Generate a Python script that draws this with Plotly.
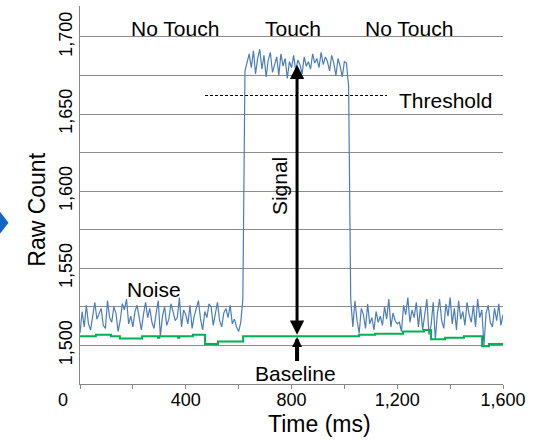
import plotly.graph_objects as go

# ---------------- data ----------------
SAMPLE_MS = 8
# raw count before touch (t = 0 .. 608 ms)
noise_before = [1508, 1522, 1512, 1526, 1514, 1510, 1519, 1528, 1517, 1520,
                1524, 1513, 1511, 1529, 1518, 1515, 1525, 1521, 1509, 1516,
                1527, 1523, 1530, 1514, 1519, 1512, 1522, 1526, 1517, 1510,
                1520, 1528, 1518, 1524, 1515, 1511, 1521, 1529, 1506, 1519,
                1525, 1513, 1517, 1527, 1522, 1516, 1518, 1531, 1512, 1523,
                1520, 1514, 1526, 1511, 1519, 1524, 1529, 1517, 1510, 1522,
                1518, 1527, 1525, 1513, 1520, 1528, 1516, 1512, 1521, 1524,
                1518, 1526, 1514, 1517, 1512, 1509, 1515]
rise_edge = [1530]
touch_counts = [1678, 1684, 1689, 1680, 1691, 1676, 1686, 1692, 1679, 1688,
                1674, 1685, 1690, 1677, 1683, 1687, 1675, 1689, 1681, 1686,
                1673, 1684, 1680, 1688, 1678, 1685, 1682, 1676, 1687, 1681,
                1684, 1679, 1689, 1683, 1686, 1680, 1690, 1682, 1687, 1684,
                1678, 1688, 1683, 1675, 1686, 1681, 1674, 1684, 1683]
fall_edge = [1668, 1530]
noise_after = [1512, 1529, 1516, 1508, 1524, 1520, 1511, 1527, 1514, 1518,
               1510, 1522, 1515, 1519, 1513, 1525, 1517, 1530, 1512, 1521,
               1516, 1514, 1515, 1509, 1526, 1520, 1531, 1515, 1523, 1518,
               1528, 1512, 1525, 1510, 1522, 1530, 1507, 1513, 1528, 1504,
               1521, 1530, 1516, 1511, 1527, 1519, 1531, 1514, 1524, 1510,
               1529, 1517, 1522, 1513, 1528, 1520, 1515, 1526, 1512, 1530,
               1518, 1523, 1500, 1521, 1526, 1515, 1512, 1524, 1516, 1527,
               1513, 1520]
raw_count = noise_before + rise_edge + touch_counts + fall_edge + noise_after
raw_time = [i * SAMPLE_MS for i in range(len(raw_count))]

# baseline (step line)
baseline_time = [0, 60, 117, 151, 235, 295, 300, 371, 376, 427, 473, 522, 617,
                 1055, 1116, 1222, 1301, 1328, 1381, 1452, 1521, 1547, 1600]
baseline_value = [1506, 1507, 1506, 1504.5, 1506, 1505, 1506, 1505, 1506, 1507,
                  1501, 1502.5, 1506, 1507, 1507.5, 1509, 1510, 1504, 1505,
                  1506, 1499.5, 1501, 1501.5]

threshold_time = [473, 1161]
threshold_value = [1662, 1662]

y_ticks = [1500, 1525, 1550, 1575, 1600, 1625, 1650, 1675, 1700]
y_ticktext = ["1,500", "", "1,550", "", "1,600", "", "1,650", "", "1,700"]
x_ticks = [0, 200, 400, 600, 800, 1000, 1200, 1400, 1600]
x_ticktext = ["", "", "400", "", "800", "", "1,200", "", "1,600"]

FONT = "Liberation Sans, Arial, sans-serif"

fig = go.Figure()
fig.add_trace(go.Scatter(x=raw_time, y=raw_count, mode="lines",
                         line=dict(color="#4a7ebb", width=1.2), showlegend=False))
fig.add_trace(go.Scatter(x=baseline_time, y=baseline_value, mode="lines",
                         line=dict(color="#00b050", width=2, shape="hv"),
                         showlegend=False))
fig.add_trace(go.Scatter(x=threshold_time, y=threshold_value, mode="lines",
                         line=dict(color="black", width=1, dash="3px,2px"),
                         showlegend=False))

ann = []
def label(text, x, y, size=21, angle=0):
    ann.append(dict(x=x, y=y, xref="x", yref="y", text=text, showarrow=False,
                    textangle=angle, font=dict(size=size, color="black", family=FONT),
                    xanchor="center", yanchor="middle"))

label("No Touch", 359, 1705.5)
label("Touch", 804, 1705.5)
label("No Touch", 1244, 1705.5)
label("Threshold", 1381, 1658.5)
label("Noise", 278, 1536.5)
label("Baseline", 817, 1481.5)
label("Signal", 755, 1603, angle=-90)

# signal double arrow
ann.append(dict(x=821, y=1682, ax=821, ay=1506, xref="x", yref="y",
                axref="x", ayref="y", text="", showarrow=True,
                arrowhead=2, startarrowhead=2, arrowside="end+start",
                arrowwidth=3, arrowsize=0.95, startarrowsize=0.95,
                arrowcolor="black"))
# baseline arrow
ann.append(dict(x=821, y=1505.5, ax=821, ay=1489, xref="x", yref="y",
                axref="x", ayref="y", text="", showarrow=True,
                arrowhead=2, arrowwidth=4, arrowsize=0.5, arrowcolor="black"))
# "0" tick label (offset like the original)
ann.append(dict(x=0, y=0, xref="x", yref="paper", text="0", showarrow=False,
                xshift=-17, yshift=-4, yanchor="top",
                font=dict(size=18, color="black", family=FONT)))
# axis titles
ann.append(dict(x=(319 - 80) / 423, y=(384.5 - 425) / 378.5, xref="paper",
                yref="paper", text="Time (ms)", showarrow=False,
                font=dict(size=23, color="black", family=FONT),
                xanchor="center", yanchor="middle"))
ann.append(dict(x=(37 - 80) / 423, y=(384.5 - 210) / 378.5, xref="paper",
                yref="paper", text="Raw Count", textangle=-90, showarrow=False,
                font=dict(size=23, color="black", family=FONT),
                xanchor="center", yanchor="middle"))
fig.layout.annotations = ann

# blue diamond marker at far left edge
fig.add_shape(type="path", xref="paper", yref="paper",
              path="M {x0},{ym} L {x1},{yt} L {x2},{ym} L {x1},{yb} Z".format(
                  x0=(-8 - 80) / 423, x1=(0 - 80) / 423, x2=(8.5 - 80) / 423,
                  ym=(384.5 - 223) / 378.5, yt=(384.5 - 212) / 378.5,
                  yb=(384.5 - 234) / 378.5),
              fillcolor="#1565c8", line=dict(width=0))

fig.update_layout(
    width=537, height=441,
    margin=dict(l=80, r=34, t=6, b=57),
    plot_bgcolor="white", paper_bgcolor="white",
    font=dict(family=FONT, color="black"),
    xaxis=dict(range=[0, 1600], tickvals=x_ticks, ticktext=x_ticktext,
               ticks="outside", ticklen=4, tickcolor="#868686",
               ticklabelstandoff=-5,
               showline=True, linecolor="#868686", linewidth=1,
               showgrid=False, zeroline=False,
               tickfont=dict(size=18, color="black", family=FONT)),
    yaxis=dict(range=[1475, 1720], tickvals=y_ticks, ticktext=y_ticktext,
               tickangle=-90, ticks="", showline=True, linecolor="#868686",
               linewidth=1, showgrid=True, gridcolor="#8c8c8c", gridwidth=1,
               zeroline=False, tickfont=dict(size=18, color="black", family=FONT)),
)

fig.write_html("out.html", config={"displayModeBar": False},
               post_script="document.body.style.margin='0';"
                           "document.body.style.overflow='hidden';")
